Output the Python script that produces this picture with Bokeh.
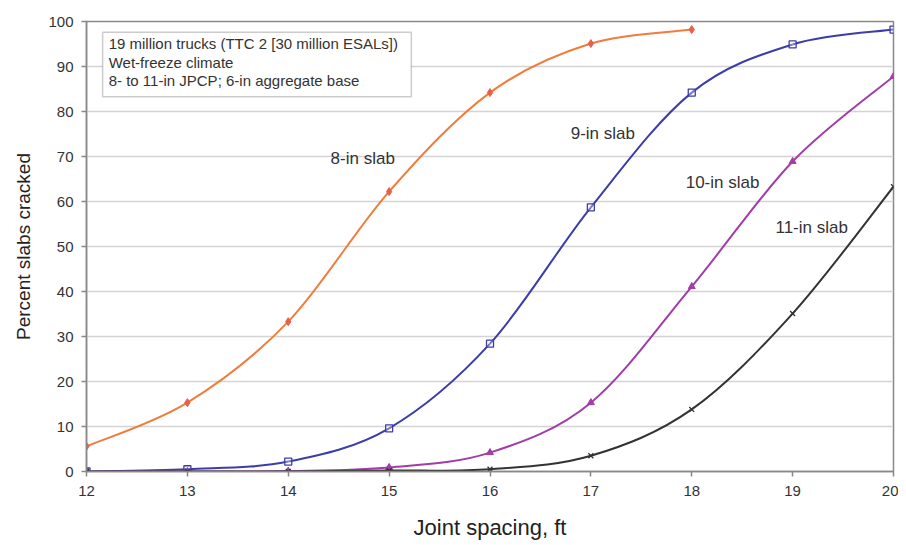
import numpy as np
from bokeh.plotting import figure
from bokeh.models import Range1d, Label, BoxAnnotation, FixedTicker
from bokeh.embed import file_html
from bokeh.resources import INLINE

spacing = [12, 13, 14, 15, 16, 17, 18, 19, 20]
slab8 = [5.6, 15.3, 33.3, 62.2, 84.2, 95.1, 98.2]
slab9 = [0.0, 0.5, 2.2, 9.6, 28.4, 58.7, 84.2, 94.9, 98.2]
slab10 = [0.0, 0.0, 0.1, 0.9, 4.2, 15.3, 41.1, 68.9, 87.8]
slab11 = [0.0, 0.0, 0.0, 0.2, 0.5, 3.5, 13.8, 35.1, 63.3]
series_names = ["8-in slab", "9-in slab", "10-in slab", "11-in slab"]
info_lines = ["19 million trucks (TTC 2 [30 million ESALs])",
              "Wet-freeze climate",
              "8- to 11-in JPCP; 6-in aggregate base"]

FONT = "Liberation Sans"

p = figure(width=898, height=545, output_backend="svg", toolbar_location=None,
           x_range=Range1d(12, 20), y_range=Range1d(0, 100),
           min_border_left=86, min_border_right=5, min_border_top=21, min_border_bottom=74)
p.background_fill_color = "white"
p.border_fill_color = "white"
p.outline_line_color = "#888888"
p.outline_line_width = 1.5

p.xgrid.grid_line_color = None
p.ygrid.grid_line_color = "#d4d4d4"
p.ygrid.grid_line_width = 1.5
p.xaxis.ticker = FixedTicker(ticks=spacing)
p.yaxis.ticker = FixedTicker(ticks=list(range(0, 101, 10)))
for ax in (p.xaxis, p.yaxis):
    ax.axis_line_color = "#888888"
    ax.axis_line_width = 1.5
    ax.major_tick_line_color = "#888888"
    ax.major_tick_line_width = 1.5
    ax.major_tick_out = 5
    ax.major_tick_in = 0
    ax.minor_tick_line_color = None
    ax.major_label_text_font = FONT
    ax.major_label_text_font_size = "15px"
    ax.major_label_text_color = "#333333"
    ax.axis_label_text_font = FONT
    ax.axis_label_text_font_style = "normal"
    ax.axis_label_text_color = "#222222"
p.xaxis.axis_label = "Joint spacing, ft"
p.yaxis.axis_label = "Percent slabs cracked"
p.xaxis.axis_label_text_font_size = "22px"
p.yaxis.axis_label_text_font_size = "19px"
p.xaxis.major_label_standoff = 9
p.yaxis.major_label_standoff = 8
p.xaxis.axis_label_standoff = 16
p.yaxis.axis_label_standoff = 11


def smooth(xs, ys):
    xs = np.asarray(xs, float)
    ys = np.asarray(ys, float)
    n = len(xs)
    x0, y0, x1, y1, cx0, cy0, cx1, cy1 = ([] for _ in range(8))
    for i in range(n - 1):
        ip = max(i - 1, 0)
        inn = min(i + 2, n - 1)
        x0.append(xs[i]); y0.append(ys[i])
        x1.append(xs[i + 1]); y1.append(ys[i + 1])
        cx0.append(xs[i] + (xs[i + 1] - xs[ip]) / 6)
        cy0.append(ys[i] + (ys[i + 1] - ys[ip]) / 6)
        cx1.append(xs[i + 1] - (xs[inn] - xs[i]) / 6)
        cy1.append(ys[i + 1] - (ys[inn] - ys[i]) / 6)
    return dict(x0=x0, y0=y0, x1=x1, y1=y1, cx0=cx0, cy0=cy0, cx1=cx1, cy1=cy1)


specs = [
    (slab8, "#F07D3C", "#E8604C", "diamond", 8),
    (slab9, "#3C3CAA", "#3C3CAA", "square", 7),
    (slab10, "#A23CA6", "#A23CA6", "triangle", 7),
    (slab11, "#333333", "#333333", "x", 7),
]
for ys, lc, mc, marker, size in specs:
    xs = spacing[:len(ys)]
    p.bezier(source=smooth(xs, ys), x0="x0", y0="y0", x1="x1", y1="y1",
             cx0="cx0", cy0="cy0", cx1="cx1", cy1="cy1", line_color=lc, line_width=2)
    if marker == "square":
        p.scatter(xs, ys, marker=marker, size=size, line_color=mc, fill_color="white",
                  fill_alpha=0.3, line_width=1.3)
    elif marker == "x":
        p.scatter(xs, ys, marker=marker, size=size, line_color=mc, line_width=1.3)
    else:
        p.scatter(xs, ys, marker=marker, size=size, line_color=mc, fill_color=mc)

label_pos = [(14.42, 69.6), (16.8, 75.1), (17.94, 64.2), (18.83, 54.2)]
for name, (lx, ly) in zip(series_names, label_pos):
    p.add_layout(Label(x=lx, y=ly, text=name, text_font=FONT, text_font_size="17px",
                       text_color="#333333", text_baseline="middle"))

p.add_layout(BoxAnnotation(left=12.16, right=15.22, top=97.6, bottom=83.3,
                           fill_color="white", fill_alpha=1.0,
                           line_color="#555555", line_width=1.5))
for i, t in enumerate(info_lines):
    p.add_layout(Label(x=12.22, y=95.1 - i * 4.1, text=t, text_font=FONT,
                       text_font_size="15px", text_color="#333333",
                       text_baseline="middle"))

open("out.html", "w").write(file_html(p, INLINE))
